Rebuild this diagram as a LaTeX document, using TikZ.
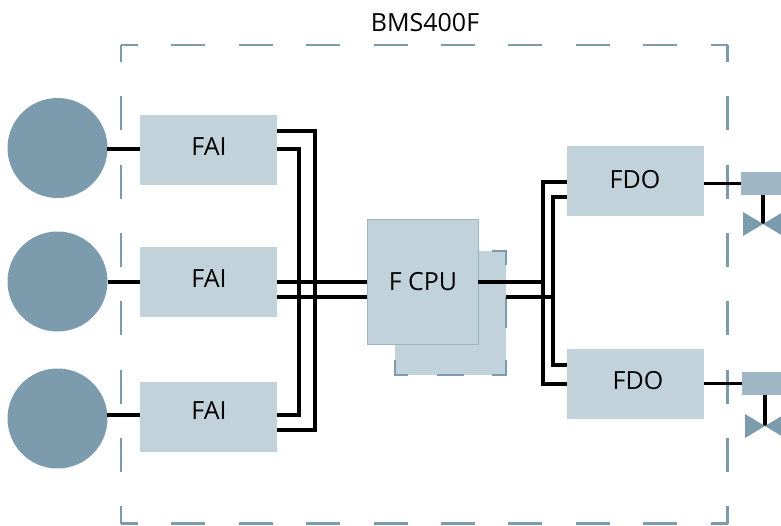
\documentclass[tikz,border=0pt]{standalone}
\usepackage{fontspec}
\setmainfont{Open Sans}
\definecolor{boxfill}{HTML}{C1D2DB}
\definecolor{frameblue}{HTML}{7C9BAC}
\definecolor{actfill}{HTML}{9FB6C4}
\tikzset{
  modbox/.style={fill=boxfill,draw=none,minimum width=137pt,minimum height=70pt,inner sep=0pt,outer sep=0pt},
  cpubox/.style={fill=boxfill,draw=frameblue!75,line width=.8pt,minimum width=111pt,minimum height=125pt,inner sep=0pt,outer sep=0pt},
  backbox/.style={fill=boxfill,draw=none,minimum width=111pt,minimum height=124pt,inner sep=0pt,outer sep=0pt},
  sensor/.style={circle,fill=frameblue,minimum size=100pt,inner sep=0pt,outer sep=0pt},
  actuator/.style={fill=actfill,minimum width=40pt,minimum height=23pt,inner sep=0pt,outer sep=0pt},
  lbl/.style={font=\fontsize{25}{29}\selectfont,inner sep=0pt,text=black},
  wire/.style={draw=black,line width=3.05pt,line join=miter},
  frame/.style={draw=frameblue,line width=2.6pt},
  backdash/.style={draw=frameblue,line width=2.6pt},
  valve/.style={fill=frameblue,draw=none}
}
\begin{document}
\begin{tikzpicture}[x=1pt,y=-1pt]
\useasboundingbox (0,0) rectangle (781,525);
% frame
\coordinate (ftl) at (121,45);
\coordinate (ftr) at (727.5,45);
\coordinate (fbl) at (121,523.5);
\coordinate (fbr) at (727.5,523.5);
\draw[frame,dash pattern=on 34pt off 33.4pt,dash phase=17pt] (ftl) -- (ftr);
\draw[frame,dash pattern=on 34pt off 33.4pt,dash phase=17pt] (fbl) -- (fbr);
\draw[frame,dash pattern=on 34pt off 34.3pt,dash phase=17pt] (ftl) -- (fbl);
\draw[frame,dash pattern=on 34pt off 34.3pt,dash phase=17pt] (ftr) -- (fbr);
% modules
\node[backbox] (back) at (450.5,313) {};
\node[modbox] (fai1) at (208.5,150) {};
\node[modbox] (fai2) at (208.5,282) {};
\node[modbox] (fai3) at (208.5,417) {};
\node[modbox] (fdo1) at (635.5,181) {};
\node[modbox] (fdo2) at (635.5,384) {};
\node[sensor] (s1) at (57.5,148) {};
\node[sensor] (s2) at (57.5,281.5) {};
\node[sensor] (s3) at (57.5,418.5) {};
\node[actuator] (a1) at (761,183.5) {};
\node[actuator] (a2) at (761.5,383.5) {};
% back box dashes
\draw[backdash] (492,251) -| (506,265);
\draw[backdash] (506,297) -- (506,328);
\draw[backdash] (506,360) |- (492,375);
\draw[backdash] (464,375) -- (437,375);
\draw[backdash] (408,375) -| (395,360);
% wires
\coordinate (t1) at (315,131);
\coordinate (t2) at (299,149);
\coordinate (b1) at (299,415);
\coordinate (b2) at (315,430);
\draw[wire] (fai1.east |- t1) -- (t1) -- (b2) -- (fai3.east |- b2);
\draw[wire] (fai1.east |- t2) -- (t2) -- (b1) -- (fai3.east |- b1);
\coordinate (c1) at (367,282);
\coordinate (c2) at (367,297);
\draw[wire] (fai2.east |- c1) -- (c1);
\draw[wire] (fai2.east |- c2) -- (c2);
\coordinate (s1p) at (107,149);
\draw[wire] (s1p) -- (fai1.west |- s1p);
\draw[wire] (s2.east |- fai2.west) -- (fai2.west);
\coordinate (s3p) at (107,415);
\draw[wire] (s3p) -- (fai3.west |- s3p);
% CPU
\node[cpubox] (cpu) at (422.5,281.5) {};
\coordinate (r1) at (478,282);
\coordinate (r2) at (506,297);
\coordinate (j1) at (543,282);
\coordinate (j2) at (553,297);
\coordinate (u1) at (543,182);
\coordinate (d1) at (543,384);
\coordinate (u2) at (553,197);
\coordinate (d2) at (553,365);
\draw[wire] (r1) -- (j1);
\draw[wire] (r2) -- (j2);
\draw[wire] (fdo1.west |- u1) -- (u1) -- (d1) -- (fdo2.west |- d1);
\draw[wire] (fdo1.west |- u2) -- (u2) -- (d2) -- (fdo2.west |- d2);
% outputs
\draw[wire] (fdo1.east |- a1.west) -- (a1.west);
\draw[wire] (fdo2.east |- a2.west) -- (a2.west);
% valves
\coordinate (v1) at (763,224);
\coordinate (v2) at (765,426);
\draw[wire] (a1.south -| v1) -- (v1);
\draw[wire] (a2.south -| v2) -- (v2);
\fill[valve] (v1) -- (743,212) -- (743,236) -- cycle;
\fill[valve] (v1) -- (783,212) -- (783,236) -- cycle;
\fill[valve] (v2) -- (745,414) -- (745,438) -- cycle;
\fill[valve] (v2) -- (785,414) -- (785,438) -- cycle;
% labels
\node[lbl] (tbms) at (425,23) {BMS400F};
\node[lbl] (tf1) at (209,147) {FAI};
\node[lbl] (tf2) at (209,279) {FAI};
\node[lbl] (tf3) at (209,411) {FAI};
\node[lbl] (tcpu) at (423,282) {F CPU};
\node[lbl] (td1) at (635,180) {FDO};
\node[lbl] (td2) at (638,381) {FDO};
\end{tikzpicture}
\end{document}
